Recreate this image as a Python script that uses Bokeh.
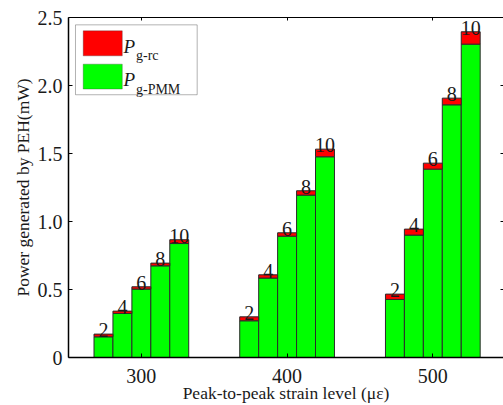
from bokeh.plotting import figure
from bokeh.models import (ColumnDataSource, Range1d, FixedTicker, LinearAxis,
                          BoxAnnotation, Label)
from bokeh.core.properties import value
from bokeh.embed import file_html
from bokeh.resources import INLINE

# ---- data ----
strain_levels = [300, 400, 500]
bar_labels = ["2", "4", "6", "8", "10"]

pmm_300 = [0.152, 0.324, 0.503, 0.674, 0.838]
pmm_400 = [0.270, 0.584, 0.892, 1.194, 1.476]
pmm_500 = [0.427, 0.900, 1.385, 1.858, 2.304]

rc_300 = [0.020, 0.017, 0.017, 0.020, 0.028]
rc_400 = [0.029, 0.024, 0.025, 0.032, 0.056]
rc_500 = [0.039, 0.044, 0.044, 0.049, 0.091]

y_ticks = [0, 0.5, 1.0, 1.5, 2.0, 2.5]
y_tick_labels = ["0", "0.5", "1.0", "1.5", "2.0", "2.5"]

FONT = "'Liberation Serif', 'Times New Roman', serif"
RED = "#ff0000"
GREEN = "#00ff00"
EDGE = "#2b2b2b"

# ---- build table ----
bar_w = 13.0
pmm_all = [pmm_300, pmm_400, pmm_500]
rc_all = [rc_300, rc_400, rc_500]
xs, pm, tot, lab = [], [], [], []
for s, pv, rv in zip(strain_levels, pmm_all, rc_all):
    n = len(pv)
    for i in range(n):
        xs.append(s + (i - (n - 1) / 2) * bar_w)
        pm.append(pv[i])
        tot.append(pv[i] + rv[i])
        lab.append(bar_labels[i])
src = ColumnDataSource(dict(x=xs, pmm=pm, total=tot, label=lab, zero=[0] * len(xs)))

p = figure(width=503, height=405, output_backend="svg", toolbar_location=None,
           x_range=Range1d(250, 548.5), y_range=Range1d(0, 2.5),
           min_border_left=68, min_border_right=0, min_border_top=17,
           min_border_bottom=48)
p.outline_line_color = None
p.xgrid.visible = False
p.ygrid.visible = False
p.background_fill_color = "white"
p.border_fill_color = "white"

p.vbar(x="x", width=bar_w, bottom="zero", top="pmm", source=src,
       fill_color=GREEN, line_color=EDGE, line_width=1)
p.vbar(x="x", width=bar_w, bottom="pmm", top="total", source=src,
       fill_color=RED, line_color=EDGE, line_width=1)
p.text(x="x", y="total", text="label", source=src, text_align="center",
       text_baseline="bottom", text_font=value(FONT),
       text_font_size=value("20px"), text_color="#1a1a1a", y_offset=3)

# axes
for ax in (p.xaxis[0], p.yaxis[0]):
    ax.major_tick_in = 4
    ax.major_tick_out = 0
    ax.minor_tick_in = 0
    ax.minor_tick_out = 0
    ax.axis_line_color = "black"
    ax.axis_line_width = 1.5
    ax.major_tick_line_color = "black"
    ax.major_label_text_font = FONT
    ax.major_label_text_font_size = "20px"
    ax.major_label_text_color = "#1a1a1a"
    ax.axis_label_text_font = FONT
    ax.axis_label_text_font_style = "normal"
    ax.axis_label_text_font_size = "17.5px"
    ax.axis_label_text_color = "#1a1a1a"

p.xaxis.ticker = FixedTicker(ticks=strain_levels)
p.xaxis.axis_label = "Peak-to-peak strain level (\u03bc\u03b5)"
p.xaxis.major_label_standoff = 11
p.xaxis.axis_label_standoff = -3

p.yaxis.ticker = FixedTicker(ticks=y_ticks)
p.yaxis.major_label_overrides = {t: l for t, l in zip(y_ticks, y_tick_labels)}
p.yaxis.axis_label = "Power generated by PEH(mW)"
p.yaxis.major_label_standoff = 6
p.yaxis.axis_label_standoff = 2

top_axis = LinearAxis(ticker=FixedTicker(ticks=strain_levels),
                      major_tick_in=3, major_tick_out=0,
                      minor_tick_in=0, minor_tick_out=0,
                      major_label_text_font_size="1px",
                      major_label_text_color=None, major_label_standoff=0,
                      axis_line_color="black", axis_line_width=1)
p.add_layout(top_axis, "above")

right_axis = LinearAxis(ticker=FixedTicker(ticks=y_ticks),
                        major_tick_in=3, major_tick_out=0,
                        minor_tick_in=0, minor_tick_out=0,
                        major_label_text_font_size="1px",
                        major_label_text_color=None, major_label_standoff=0,
                        axis_line_color=None)
p.add_layout(right_axis, "right")

# ---- legend (drawn manually, to allow subscripts) ----
p.add_layout(BoxAnnotation(left=254.8, right=338.3, bottom=1.932, top=2.446,
                           fill_color="white", fill_alpha=1.0,
                           line_color="black", line_width=1))
p.add_layout(BoxAnnotation(left=260.1, right=286.9, bottom=2.218, top=2.402,
                           fill_color=RED, fill_alpha=1.0,
                           line_color=EDGE, line_width=1))
p.add_layout(BoxAnnotation(left=260.1, right=286.9, bottom=1.974, top=2.157,
                           fill_color=GREEN, fill_alpha=1.0,
                           line_color=EDGE, line_width=1))
for yb, ys, sub in ((2.285, 2.218, "g-rc"), (2.047, 1.974, "g-PMM")):
    p.add_layout(Label(x=287.7, y=yb, text="P", text_font=FONT,
                       text_font_style="italic", text_font_size="19px",
                       text_baseline="alphabetic", text_color="#1a1a1a"))
    p.add_layout(Label(x=296.3, y=ys, text=sub, text_font=FONT,
                       text_font_size="14px", text_baseline="alphabetic",
                       text_color="#1a1a1a"))

open("out.html", "w").write(file_html(p, INLINE))
